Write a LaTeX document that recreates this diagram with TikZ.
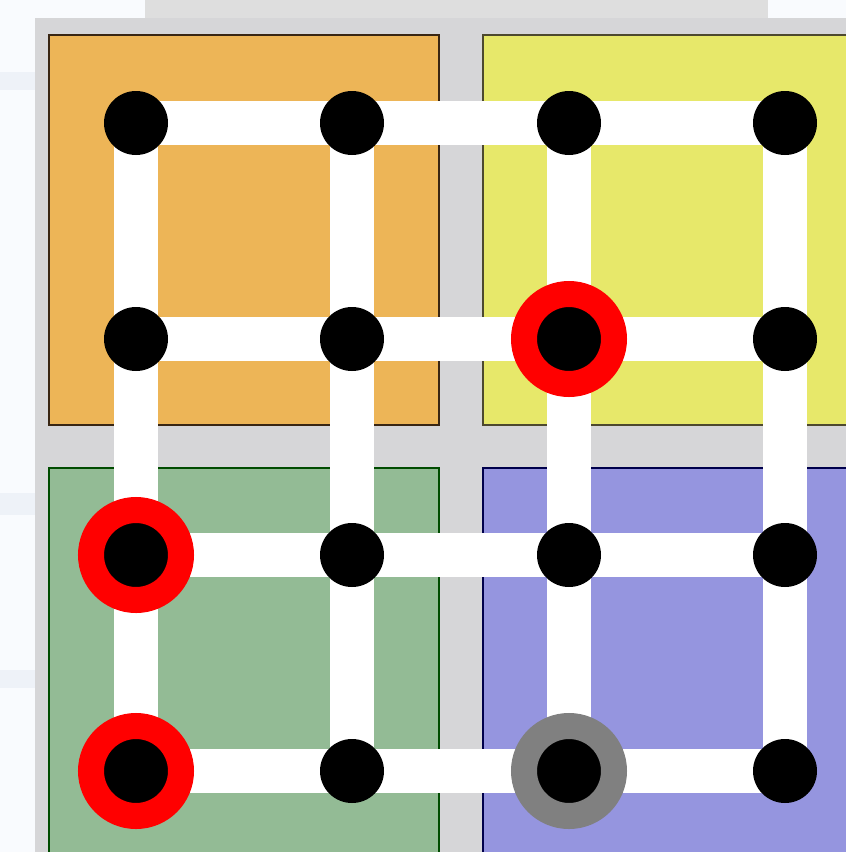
\documentclass[tikz,border=0pt]{standalone}
\usetikzlibrary{backgrounds}
\definecolor{panelgray}{HTML}{D6D6D8}
\definecolor{stripgray}{HTML}{DEDEDE}
\definecolor{qorange}{HTML}{EDB557}
\definecolor{qyellow}{HTML}{E7E86A}
\definecolor{qgreen}{HTML}{93BB95}
\definecolor{qblue}{HTML}{9595DF}
\definecolor{faintblue}{HTML}{EEF2F8}
\definecolor{offwhite}{HTML}{F9FBFE}
\tikzset{
  quad/.style={line width=1.3pt},
  bar/.style={white, line width=44pt},
  dot/.style={circle, fill=black, minimum size=64pt, inner sep=0pt, outer sep=0pt},
  redring/.style={circle, fill=black, draw=red, line width=26pt, minimum size=90pt, inner sep=0pt},
  grayring/.style={circle, fill=black, draw=gray, line width=26pt, minimum size=90pt, inner sep=0pt}
}
\pgfdeclarelayer{bars}
\pgfsetlayers{background,bars,main}
\begin{document}
\begin{tikzpicture}[x=1pt, y=-1pt]
\useasboundingbox (0,0) rectangle (846,852);
\clip (0,0) rectangle (846,852);
\begin{pgfonlayer}{background}
\fill[offwhite] (0,0) rectangle (846,852);
\fill[faintblue] (0,72) rectangle (35,90);
\fill[faintblue] (0,493) rectangle (35,515);
\fill[faintblue] (0,670) rectangle (35,688);
\fill[stripgray] (145,0) rectangle (768,18);
\fill[panelgray] (35,18) rectangle (860,860);
\filldraw[quad, fill=qorange, draw=black!70!brown] (49,35) rectangle (439,425);
\filldraw[quad, fill=qyellow, draw=black!60!olive] (483,35) rectangle (870,425);
\filldraw[quad, fill=qgreen, draw=black!70!green] (49,468) rectangle (439,870);
\filldraw[quad, fill=qblue, draw=black!70!blue] (483,468) rectangle (870,870);
\end{pgfonlayer}

% dots
\foreach \i/\x in {1/136,2/352,3/569,4/785}{
  \foreach \j/\y in {1/123,2/339,3/555,4/771}{
    \node[dot] (n\i\j) at (\x,\y) {};
  }
}
\node[redring] (r32) at (n32) {};
\node[redring] (r13) at (n13) {};
\node[redring] (r14) at (n14) {};
\node[grayring] (g34) at (n34) {};

% bars
\begin{pgfonlayer}{bars}
\foreach \i in {1,2,3,4}{
  \draw[bar] (n\i1.center) -- (n\i2.center) -- (n\i3.center) -- (n\i4.center);
  \draw[bar] (n1\i.center) -- (n2\i.center) -- (n3\i.center) -- (n4\i.center);
}
\end{pgfonlayer}
\end{tikzpicture}
\end{document}
